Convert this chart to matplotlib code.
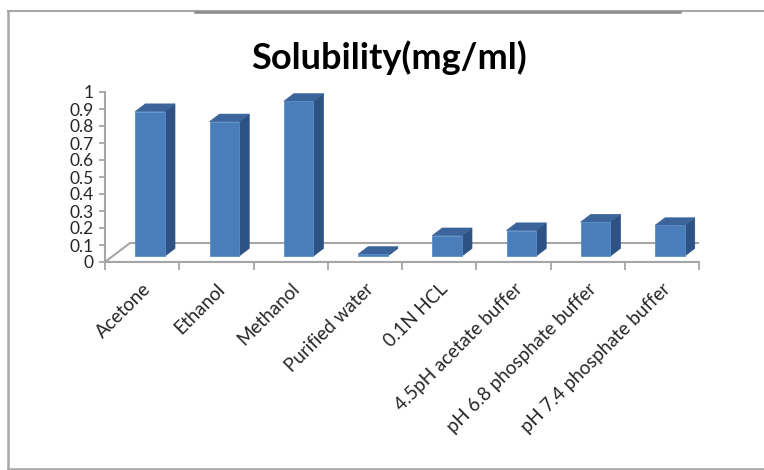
import matplotlib
matplotlib.use("Agg")
import matplotlib.pyplot as plt
from matplotlib.patches import Polygon
from matplotlib.lines import Line2D
import numpy as np

# Solubility data
solvents = ["Acetone", "Ethanol", "Methanol", "Purified water", "0.1N HCL",
            "4.5pH acetate buffer", "pH 6.8 phosphate buffer", "pH 7.4 phosphate buffer"]
solubility = [0.85, 0.79, 0.91, 0.01, 0.12, 0.15, 0.20, 0.18]
y_ticks = [0, 0.1, 0.2, 0.3, 0.4, 0.5, 0.6, 0.7, 0.8, 0.9, 1]
y_tick_labels = ["0", "0.1", "0.2", "0.3", "0.4", "0.5", "0.6", "0.7", "0.8", "0.9", "1"]

FONT = ["Lato", "DejaVu Sans"]
plt.rcParams["font.family"] = FONT

W, H, DPI = 764, 470, 100
fig = plt.figure(figsize=(W / DPI, H / DPI), dpi=DPI)
fig.patch.set_facecolor("white")

# plot area (front plane of the 3D box)
ax = fig.add_axes([105 / W, 208 / H, 594 / W, 170 / H])
n = len(solvents)
ax.set_xlim(-0.5, n - 0.5)
ax.set_ylim(0, 1)
ax.patch.set_alpha(0)

# pixel-per-unit scales to express depth offsets in data space
p0 = ax.transData.transform((0, 0))
p1 = ax.transData.transform((1, 1))
sx, sy = p1 - p0

def depth(dx_px, dy_px):
    return dx_px / sx, dy_px / sy

floor_dx, floor_dy = depth(25, 19)
front_dx, front_dy = depth(8, 6)
back_dx, back_dy = depth(18, 13.6)

grid_col = "#a6a6a6"

# floor
floor = Polygon([(-0.5, 0), (n - 0.5, 0), (n - 0.5 + floor_dx, floor_dy),
                 (-0.5 + floor_dx, floor_dy)], closed=True,
                facecolor="white", edgecolor=grid_col, lw=1.5, zorder=1)
ax.add_patch(floor)

# 3D columns
bw = 0.40
front_c, top_c, side_c = "#4A7EBB", "#3B659A", "#2D5283"
x = np.arange(n)
for xi, v in zip(x, solubility):
    l = xi - bw / 2 + front_dx
    r = xi + bw / 2 + front_dx
    b = front_dy
    t = front_dy + v
    side = Polygon([(r, b), (r + back_dx - front_dx, b + back_dy - front_dy),
                    (r + back_dx - front_dx, t + back_dy - front_dy), (r, t)],
                   closed=True, facecolor=side_c, edgecolor=side_c, lw=0.5, zorder=3)
    top = Polygon([(l, t), (r, t), (r + back_dx - front_dx, t + back_dy - front_dy),
                   (l + back_dx - front_dx, t + back_dy - front_dy)],
                  closed=True, facecolor=top_c, edgecolor=top_c, lw=0.5, zorder=3)
    ax.add_patch(side)
    ax.add_patch(top)
ax.bar(x + front_dx, solubility, width=bw, bottom=front_dy, color=front_c,
       edgecolor="#5B8CC8", linewidth=0.6, zorder=4)

# axes styling
for s in ("top", "right"):
    ax.spines[s].set_visible(False)
ax.spines["left"].set_color(grid_col)
ax.spines["left"].set_linewidth(1.5)
ax.spines["bottom"].set_color(grid_col)
ax.spines["bottom"].set_linewidth(1.5)

ax.set_yticks(y_ticks)
ax.set_yticklabels(y_tick_labels, fontsize=12.5, color="#262626")
ax.tick_params(axis="y", length=4, width=1.3, color=grid_col, pad=4)

ax.set_xticks(np.arange(-0.5, n, 1.0))
ax.set_xticklabels([])
ax.tick_params(axis="x", which="major", length=6, width=1.3, color=grid_col, direction="out")
ax.set_xticks(x, minor=True)
ax.set_xticklabels(solvents, minor=True, rotation=45, ha="right", va="top",
                   rotation_mode="anchor", fontsize=13.5, color="#262626")
ax.tick_params(axis="x", which="minor", length=0, pad=13)

# title
fig.text(389 / W, 1 - 58 / H, "Solubility(mg/ml)", ha="center", va="center",
         fontsize=26, fontweight="bold", color="black")

# outer chart frame
frame_col = "#a8a8a8"
fig.add_artist(Line2D([8 / W, 8 / W], [1 - 11 / H, 1 - 469 / H], color=frame_col, lw=1.8))
fig.add_artist(Line2D([8 / W, 1], [1 - 11 / H, 1 - 11 / H], color=frame_col, lw=1.5))
fig.add_artist(Line2D([195 / W, 680 / W], [1 - 11.5 / H, 1 - 11.5 / H], color="#8a8a8a", lw=1.8))
fig.add_artist(Line2D([8 / W, 1], [1 - 469 / H, 1 - 469 / H], color=frame_col, lw=1.8))

fig.savefig("out.png", dpi=DPI)
